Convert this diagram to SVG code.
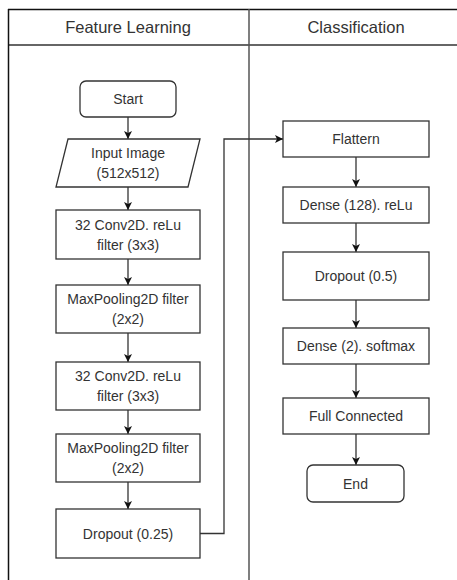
<svg xmlns="http://www.w3.org/2000/svg" width="457" height="580" viewBox="0 0 457 580">
<defs>
<style>
.box{fill:#fff;stroke:#333;stroke-width:1.3}
.lane{fill:none;stroke:#333;stroke-width:1.5}
.t{font-family:"Liberation Sans",Arial,sans-serif;font-size:14px;fill:#333;text-anchor:middle;dominant-baseline:central}
.h{font-family:"Liberation Sans",Arial,sans-serif;font-size:16.5px;fill:#333;text-anchor:middle;dominant-baseline:central}
.c{fill:none;stroke:#333;stroke-width:1.3}
</style>
<marker id="arr" markerWidth="10" markerHeight="10" refX="9" refY="5" orient="auto" markerUnits="userSpaceOnUse">
<path d="M1,1 L9,5 L1,9 L3,5 Z" fill="#111"/>
</marker>
</defs>
<rect width="457" height="580" fill="#fff"/>
<g id="lanes">
<line class="lane" x1="8" y1="9.5" x2="457" y2="9.5" style="stroke:#111"/>
<line class="lane" x1="8" y1="45" x2="457" y2="45"/>
<line class="lane" x1="8.5" y1="9" x2="8.5" y2="580" style="stroke:#111"/>
<line class="lane" x1="249" y1="9" x2="249" y2="580" style="stroke:#555"/>
<text class="h" x="128" y="27">Feature Learning</text>
<text class="h" x="356" y="27">Classification</text>
</g>
<g id="connectors">
<line class="c" x1="128" y1="117" x2="128" y2="139" marker-end="url(#arr)"/>
<line class="c" x1="128" y1="187" x2="128" y2="210" marker-end="url(#arr)"/>
<line class="c" x1="128" y1="259" x2="128" y2="285" marker-end="url(#arr)"/>
<line class="c" x1="128" y1="333" x2="128" y2="362" marker-end="url(#arr)"/>
<line class="c" x1="128" y1="410" x2="128" y2="434" marker-end="url(#arr)"/>
<line class="c" x1="128" y1="482" x2="128" y2="509" marker-end="url(#arr)"/>
<polyline class="c" points="200,533.5 224,533.5 224,139 283,139" marker-end="url(#arr)"/>
<line class="c" x1="356" y1="157" x2="356" y2="187" marker-end="url(#arr)"/>
<line class="c" x1="356" y1="223" x2="356" y2="252" marker-end="url(#arr)"/>
<line class="c" x1="356" y1="300" x2="356" y2="328" marker-end="url(#arr)"/>
<line class="c" x1="356" y1="364" x2="356" y2="398" marker-end="url(#arr)"/>
<line class="c" x1="356" y1="434" x2="356" y2="465" marker-end="url(#arr)"/>
</g>
<g id="start">
<rect class="box" x="80" y="81" width="96" height="36" rx="6"/>
<text class="t" x="128" y="99">Start</text>
</g>
<g id="input">
<polygon class="box" points="68,139 200,139 188,187 56,187"/>
<text class="t" x="128" y="153">Input Image</text>
<text class="t" x="128" y="173">(512x512)</text>
</g>
<g id="conv1">
<rect class="box" x="56" y="210" width="144" height="49"/>
<text class="t" x="128" y="225">32 Conv2D. reLu</text>
<text class="t" x="128" y="245">filter (3x3)</text>
</g>
<g id="pool1">
<rect class="box" x="56" y="285" width="144" height="48"/>
<text class="t" x="128" y="299">MaxPooling2D filter</text>
<text class="t" x="128" y="319">(2x2)</text>
</g>
<g id="conv2">
<rect class="box" x="56" y="362" width="144" height="48"/>
<text class="t" x="128" y="376">32 Conv2D. reLu</text>
<text class="t" x="128" y="396">filter (3x3)</text>
</g>
<g id="pool2">
<rect class="box" x="56" y="434" width="144" height="48"/>
<text class="t" x="128" y="448">MaxPooling2D filter</text>
<text class="t" x="128" y="468">(2x2)</text>
</g>
<g id="dropout1">
<rect class="box" x="56" y="509" width="144" height="49"/>
<text class="t" x="128" y="533.5">Dropout (0.25)</text>
</g>
<g id="flatten">
<rect class="box" x="283" y="121" width="146" height="36"/>
<text class="t" x="356" y="139">Flattern</text>
</g>
<g id="dense128">
<rect class="box" x="283" y="187" width="146" height="36"/>
<text class="t" x="356" y="205">Dense (128). reLu</text>
</g>
<g id="dropout2">
<rect class="box" x="283" y="252" width="146" height="48"/>
<text class="t" x="356" y="276">Dropout (0.5)</text>
</g>
<g id="dense2">
<rect class="box" x="283" y="328" width="146" height="36"/>
<text class="t" x="356" y="346">Dense (2). softmax</text>
</g>
<g id="full">
<rect class="box" x="283" y="398" width="146" height="36"/>
<text class="t" x="356" y="416">Full Connected</text>
</g>
<g id="end">
<rect class="box" x="307" y="465" width="97" height="37" rx="6"/>
<text class="t" x="355.5" y="483.5">End</text>
</g>
</svg>
